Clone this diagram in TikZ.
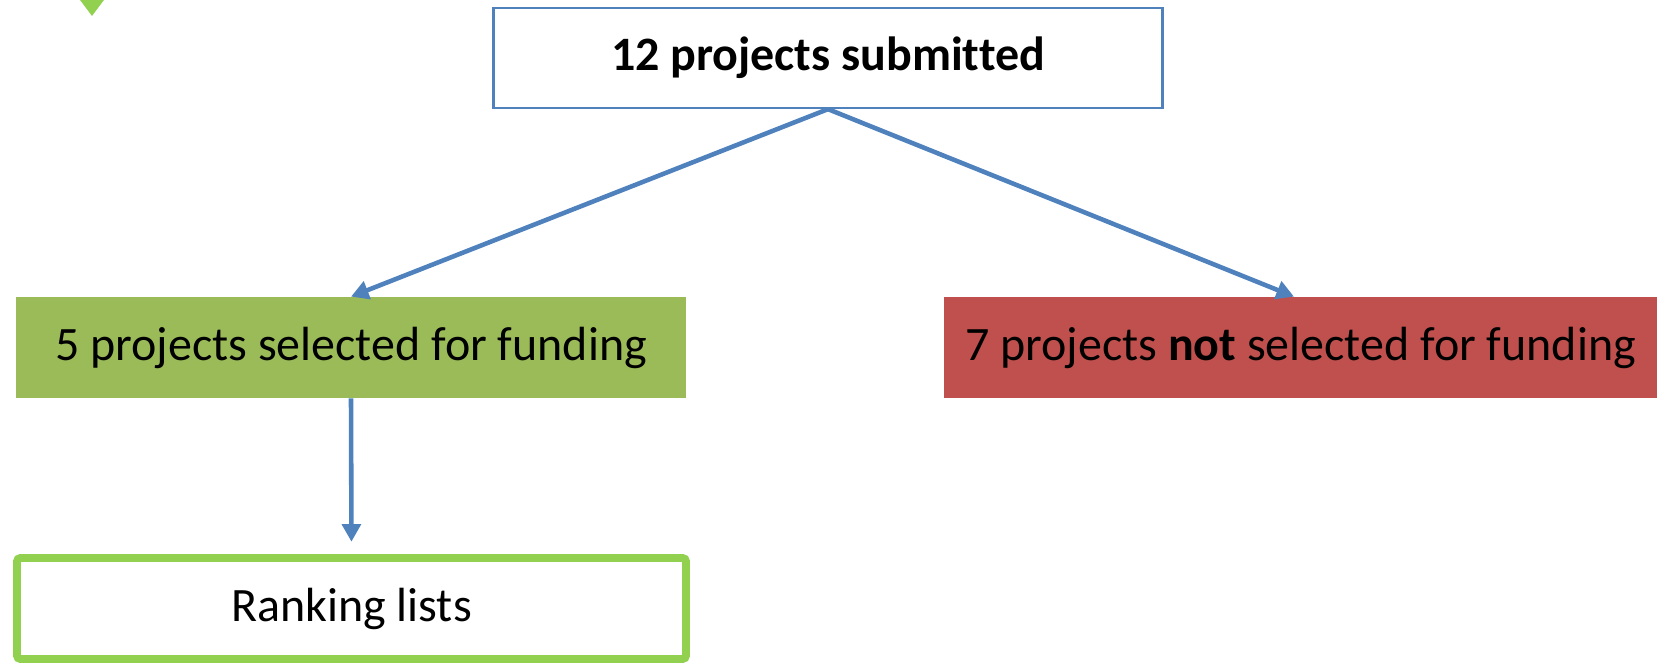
\documentclass[tikz,border=0pt]{standalone}
\usepackage{fontspec}
\setmainfont[Ligatures=NoCommon]{Carlito}
\usetikzlibrary{arrows.meta, positioning}
\usepackage{xcolor}
\definecolor{OfficeBlue}{HTML}{4F81BD}
\definecolor{OfficeGreen}{HTML}{9BBB59}
\definecolor{OfficeRed}{HTML}{C0504D}
\definecolor{OfficeLime}{HTML}{92D050}
\definecolor{OfficeBlack}{HTML}{000000}
\tikzset{
    % Box styles
    submitted/.style={
        rectangle,
        draw=OfficeBlue,
        fill=white,
        line width=1.3pt,
        minimum width=13.38cm,
        minimum height=2cm,
        align=center,
        font=\fontsize{27.3}{32}\selectfont\bfseries
    },
    selected/.style={
        rectangle,
        fill=OfficeGreen,
        minimum width=13.4cm,
        minimum height=2.02cm,
        align=center,
        font=\fontsize{27.3}{32}\selectfont
    },
    rejected/.style={
        rectangle,
        fill=OfficeRed,
        minimum width=14.26cm,
        minimum height=2.02cm,
        align=center,
        font=\fontsize{27.3}{32}\selectfont
    },
    ranking/.style={
        rectangle,
        rounded corners=2pt,
        draw=OfficeLime,
        fill=white,
        line width=4.5pt,
        minimum width=13.38cm,
        minimum height=2.02cm,
        align=center,
        font=\fontsize{27.3}{32}\selectfont
    },
    % Arrow style
    arrow/.style={
        -{Triangle[length=10pt,width=10.5pt]},
        line width=2.6pt,
        draw=OfficeBlue
    }
}

\begin{document}
\begin{tikzpicture}
    \useasboundingbox (0,0) rectangle (33.2,-13.26);

    % tip of the green marker, top left
    \fill[OfficeLime] (1.6,0) -- (2.08,0) -- (1.84,-0.32) -- cycle;

    \node[submitted] (submitted) at (16.56,-1.16) {12 projects submitted};
    \node[selected] (selected) at (7.02,-6.95) {5 projects selected for funding};
    \node[rejected] (rejected) at (26.01,-6.95) {7 projects \textbf{not} selected for funding};
    \node[ranking] (ranking) at (7.03,-12.17) {Ranking lists};

    \draw[arrow] (submitted.south) -- (selected.north);
    \draw[arrow] (submitted.south) -- ([xshift=-0.13cm]rejected.north);
    \draw[arrow, shorten >=7pt] (selected.south) -- (ranking.north);
\end{tikzpicture}
\end{document}
